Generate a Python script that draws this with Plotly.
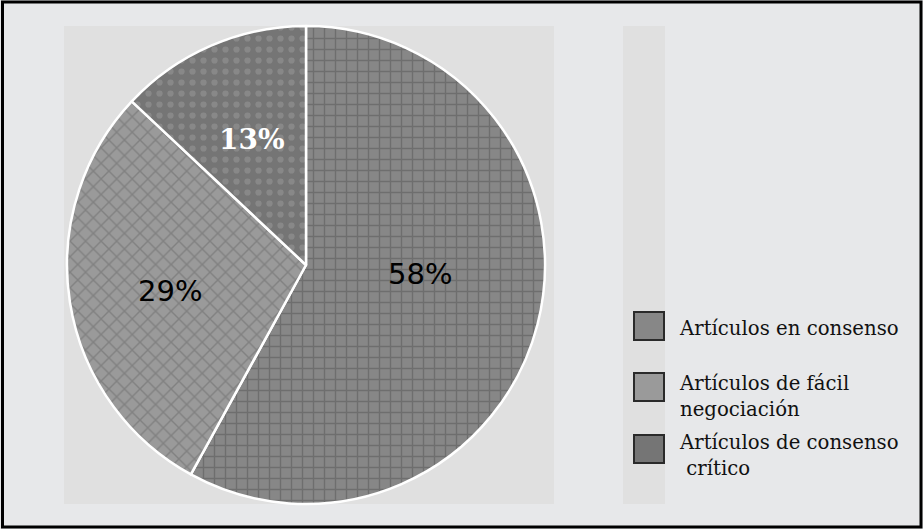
import math
import plotly.graph_objects as go

categories = ["Artículos en consenso", "Artículos de fácil negociación", "Artículos de consenso crítico"]
legend_labels = ["Artículos en consenso", "Artículos de fácil<br>negociación", "Artículos de consenso<br> crítico"]
values = [58, 29, 13]
slice_colors = ["#878787", "#9a9a9a", "#757575"]
pattern_shapes = ["+", "x", "."]
pattern_fg = ["#565656", "#686868", "#9c9c9c"]
text_colors = ["black", "black", "white"]
text_fonts = ["DejaVu Sans", "DejaVu Sans", "DejaVu Serif"]
text_sizes = [29, 29, 28]
text_weights = ["normal", "normal", "bold"]

W, H = 923, 529
CX, CY, R = 306, 265, 239          # pie centre and radius in pixels
label_r = [0.48, 0.58, 0.57]        # radial position of the % labels (fraction of radius)
label_shift = [-10, -2, 0]          # angular nudge of labels (degrees)

fig = go.Figure()
fig.add_trace(go.Pie(
    labels=categories,
    values=values,
    sort=False,
    direction="clockwise",
    rotation=0,
    textinfo="none",
    marker=dict(
        colors=slice_colors,
        line=dict(color="white", width=2.5),
        pattern=dict(shape=pattern_shapes, fgcolor=pattern_fg, size=11, solidity=0.25,
                     fillmode="overlay"),
    ),
    domain=dict(x=[(CX - R) / W, (CX + R) / W], y=[1 - (CY + R) / H, 1 - (CY - R) / H]),
    showlegend=False,
    hoverinfo="label+percent",
))

shapes = [
    dict(type="rect", xref="paper", yref="paper", x0=64 / W, x1=554 / W,
         y0=1 - 504 / H, y1=1 - 26 / H, fillcolor="#e0e0e0", line=dict(width=0), layer="below"),
    dict(type="rect", xref="paper", yref="paper", x0=623 / W, x1=665 / W,
         y0=1 - 504 / H, y1=1 - 26 / H, fillcolor="#e0e0e0", line=dict(width=0), layer="below"),
    dict(type="rect", xref="paper", yref="paper", x0=2.5 / W, x1=921 / W,
         y0=1 - 527 / H, y1=1 - 2 / H, line=dict(color="black", width=3), fillcolor="rgba(0,0,0,0)"),
]

annotations = []
total = sum(values)
cum = 0
for i, v in enumerate(values):
    mid = (cum + v / 2) / total * 360 + label_shift[i]
    cum += v
    a = math.radians(mid)
    px = CX + label_r[i] * R * math.sin(a)
    py = CY - label_r[i] * R * math.cos(a)
    annotations.append(dict(xref="paper", yref="paper", x=px / W, y=1 - py / H,
                            xanchor="center", yanchor="middle", showarrow=False,
                            text=f"{round(v / total * 100)}%",
                            font=dict(family=text_fonts[i], size=text_sizes[i], color=text_colors[i],
                                      weight=text_weights[i])))

swatch_y = [326, 387, 449]
text_y = [328, 396, 455]
for i, lab in enumerate(legend_labels):
    yc = swatch_y[i]
    shapes.append(dict(type="rect", xref="paper", yref="paper",
                       x0=634 / W, x1=664 / W, y0=1 - (yc + 14) / H, y1=1 - (yc - 14) / H,
                       fillcolor=slice_colors[i], line=dict(color="#2a2a2a", width=2)))
    annotations.append(dict(xref="paper", yref="paper", x=677 / W, y=1 - text_y[i] / H,
                            xanchor="left", yanchor="middle", align="left", showarrow=False,
                            text=lab, font=dict(family="DejaVu Serif", size=19.7, color="#111111")))

fig.update_layout(
    width=W, height=H,
    margin=dict(l=0, r=0, t=0, b=0),
    paper_bgcolor="#e7e8ea",
    plot_bgcolor="#e7e8ea",
    shapes=shapes,
    annotations=annotations,
)

fig.write_html("out.html", config={"displayModeBar": False},
               post_script="document.body.style.margin='0';document.body.style.overflow='hidden';")
